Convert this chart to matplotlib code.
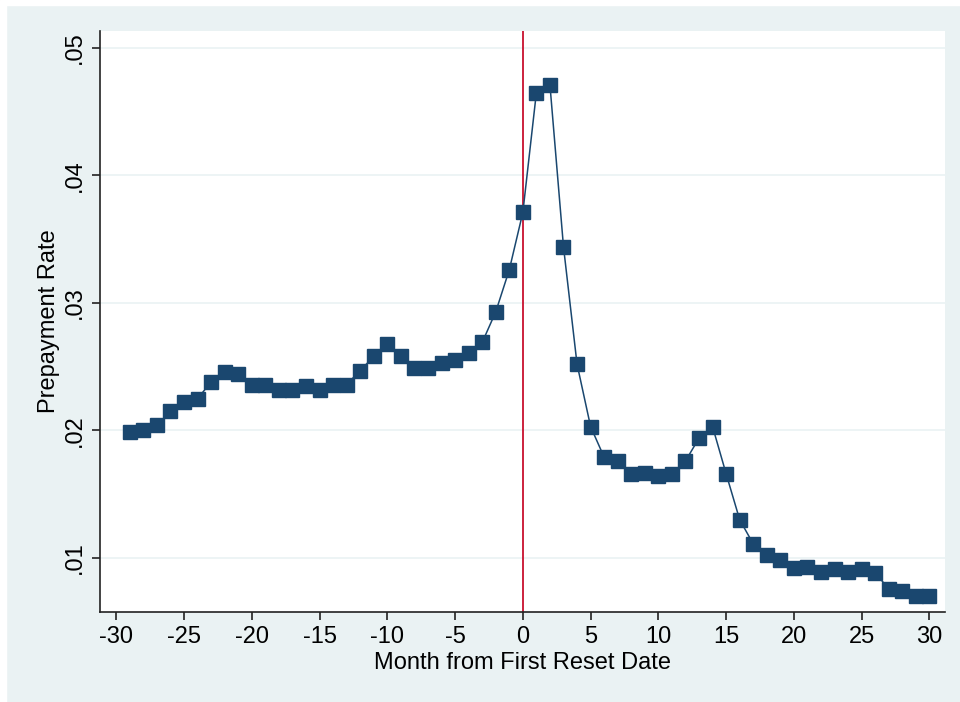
import matplotlib
matplotlib.use("Agg")
import matplotlib.pyplot as plt
from matplotlib.patches import Rectangle

plt.rcParams['font.family'] = ['Liberation Sans Narrow', 'Liberation Sans', 'DejaVu Sans']

# months relative to first reset date
months = list(range(-29, 31))
# prepayment rate
rate = [0.0199, 0.0200, 0.0204, 0.0215, 0.0222, 0.0225, 0.0238, 0.0246, 0.0244, 0.0236,
        0.0236, 0.0232, 0.0232, 0.0235, 0.0232, 0.0236, 0.0236, 0.0247, 0.0258, 0.0268,
        0.0258, 0.0249, 0.0249, 0.0253, 0.0255, 0.0261, 0.0269, 0.0293, 0.0326, 0.0371,
        0.0465, 0.0471, 0.0344, 0.0252, 0.0203, 0.0179, 0.0176, 0.0166, 0.0167, 0.0164,
        0.0166, 0.0176, 0.0194, 0.0203, 0.0166, 0.0130, 0.0111, 0.0102, 0.0098, 0.0092,
        0.0093, 0.0089, 0.0091, 0.0089, 0.0091, 0.0088, 0.0076, 0.0074, 0.0070, 0.0070]

xticks = list(range(-30, 31, 5))
yticks = [0.01, 0.02, 0.03, 0.04, 0.05]
ylabels = [".01", ".02", ".03", ".04", ".05"]

bg = "#eaf2f3"
navy = "#1a476f"

fig = plt.figure(figsize=(9.6, 7.02), dpi=100, facecolor=bg)
# thin white strip on top and left like the screenshot
fig.patches.append(Rectangle((0, 0), 6 / 960, 1, transform=fig.transFigure, color="white", zorder=0))
fig.patches.append(Rectangle((0, 1 - 5 / 702), 1, 5 / 702, transform=fig.transFigure, color="white", zorder=0))

ax = fig.add_axes([100 / 960, 1 - 612 / 702, 845 / 960, 581 / 702])
ax.set_facecolor("white")

ax.set_xlim(-31.2, 31.15)
ax.set_ylim(0.00576, 0.05133)

for v in yticks:
    ax.axhline(v, color=bg, lw=1.2, zorder=1)
ax.axvline(0, color="#c8102e", lw=1.3, zorder=2)

ax.plot(months, rate, color=navy, lw=1.1, marker="s", markersize=9.5,
        markerfacecolor=navy, markeredgecolor=navy, zorder=3)

for s in ["top", "right"]:
    ax.spines[s].set_visible(False)
for s in ["left", "bottom"]:
    ax.spines[s].set_color("#222222")
    ax.spines[s].set_linewidth(1.2)

ax.set_xticks(xticks)
ax.set_xticklabels([str(t) for t in xticks], fontsize=17)
ax.set_yticks(yticks)
ax.set_yticklabels(ylabels, fontsize=17, rotation=90, va="center")
ax.tick_params(direction="out", length=6, width=1.2, color="#222222", pad=4)

ax.set_xlabel("Month from First Reset Date", fontsize=17, labelpad=3)
ax.set_ylabel("Prepayment Rate", fontsize=17, labelpad=3)

fig.savefig("out.png", dpi=100, facecolor=bg)
